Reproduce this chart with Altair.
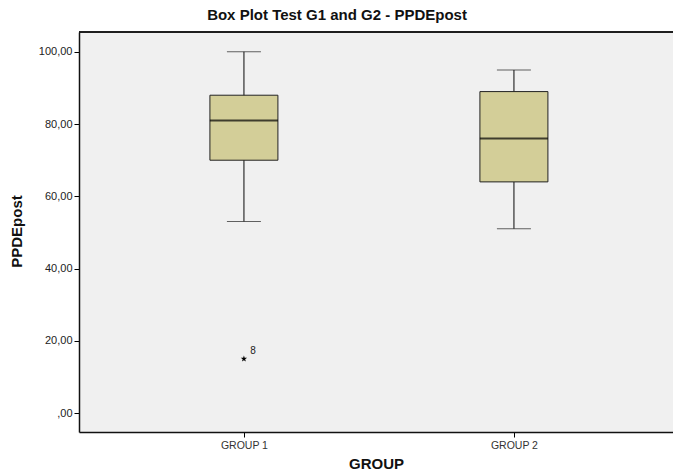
import altair as alt
import pandas as pd

# Summary statistics per group (Tukey boxplot, SPSS style)
groups = ["GROUP 1", "GROUP 2"]
whisker_low = [53, 51]
q1 = [70, 64]
median = [81, 76]
q3 = [88, 89]
whisker_high = [100, 95]

# Extreme values (case numbers shown next to the star)
outlier_group = ["GROUP 1"]
outlier_value = [15]
outlier_case = ["8"]

stats = pd.DataFrame({
    "group": groups, "lo": whisker_low, "q1": q1, "med": median,
    "q3": q3, "hi": whisker_high,
})
outliers = pd.DataFrame({"group": outlier_group, "value": outlier_value, "case": outlier_case})

FONT = "Liberation Sans"
W, H = 594, 400
FRAME = "#111"

x = alt.X("group:N", title="GROUP", sort=groups,
          scale=alt.Scale(type="point", padding=0.6, align=0.509),
          axis=alt.Axis(labelAngle=0, labelFont=FONT, labelFontSize=10.5, labelColor="#333",
                        tickColor="#000", tickSize=5, domain=True, domainColor=FRAME,
                        domainWidth=1.5, labelPadding=3,
                        titleFont=FONT, titleFontSize=15, titleFontWeight="bold",
                        titleColor="#111", titlePadding=6))
yscale = alt.Scale(domain=[-5.25, 105.5], nice=False, zero=False)
yaxis = alt.Axis(values=[0, 20, 40, 60, 80, 100], grid=False, domain=True,
                 domainColor=FRAME, domainWidth=1.5,
                 labelExpr="datum.value == 0 ? ',00' : replace(format(datum.value, '.2f'), '.', ',')",
                 labelFont=FONT, labelFontSize=11, labelColor="#222", tickColor="#000",
                 tickSize=5, labelPadding=2,
                 title="PPDEpost", titleFont=FONT, titleFontSize=15, titleFontWeight="bold",
                 titleColor="#111", titleX=-55, titleY=199)

base = alt.Chart(stats)

whiskers = base.mark_rule(color="#555", strokeWidth=1.5).encode(
    x=x, y=alt.Y("lo:Q", scale=yscale, axis=yaxis), y2="hi:Q")
cap_lo = base.mark_tick(color="#222", thickness=1, size=34).encode(
    x=x, y=alt.Y("lo:Q", scale=yscale))
cap_hi = base.mark_tick(color="#222", thickness=1, size=34).encode(
    x=x, y=alt.Y("hi:Q", scale=yscale))
box = base.mark_bar(size=68, fill="#D3CE98", stroke="#222", strokeWidth=1).encode(
    x=x, y=alt.Y("q1:Q", scale=yscale), y2="q3:Q")
med = base.mark_tick(color="#000", thickness=2, size=68).encode(
    x=x, y=alt.Y("med:Q", scale=yscale))

star_path = ("M0,-1L0.22,-0.3L0.95,-0.31L0.36,0.12L0.59,0.81L0,0.38L-0.59,0.81"
             "L-0.36,0.12L-0.95,-0.31L-0.22,-0.3Z")
ob = alt.Chart(outliers)
stars = ob.mark_point(shape=star_path, filled=True, color="#000", size=45, opacity=1).encode(
    x=x, y=alt.Y("value:Q", scale=yscale))
labels = ob.mark_text(font=FONT, fontSize=10, color="#222", dx=9, dy=-8).encode(
    x=x, y=alt.Y("value:Q", scale=yscale), text="case:N")

# top edge of the plot frame (the right edge runs off the page)
top_edge = alt.Chart(stats).mark_rule(color=FRAME, strokeWidth=1.5).encode(
    x=alt.value(0), x2=alt.value(W), y=alt.value(0))

chart = alt.layer(whiskers, cap_lo, cap_hi, box, med, stars, labels, top_edge).properties(
    width=W, height=H,
    view=alt.ViewBackground(fill="#F0F0F0", stroke=None),
    title=alt.TitleParams("Box Plot Test G1 and G2 - PPDEpost", font=FONT, fontSize=15,
                          fontWeight="bold", color="#111", anchor="middle", dx=-39, offset=8),
    autosize=alt.AutoSizeParams(type="none"),
    padding={"left": 79, "top": 32, "right": 0, "bottom": 40},
).configure(background="white")

chart.save("out.html", embed_options={"renderer": "svg", "actions": False})
